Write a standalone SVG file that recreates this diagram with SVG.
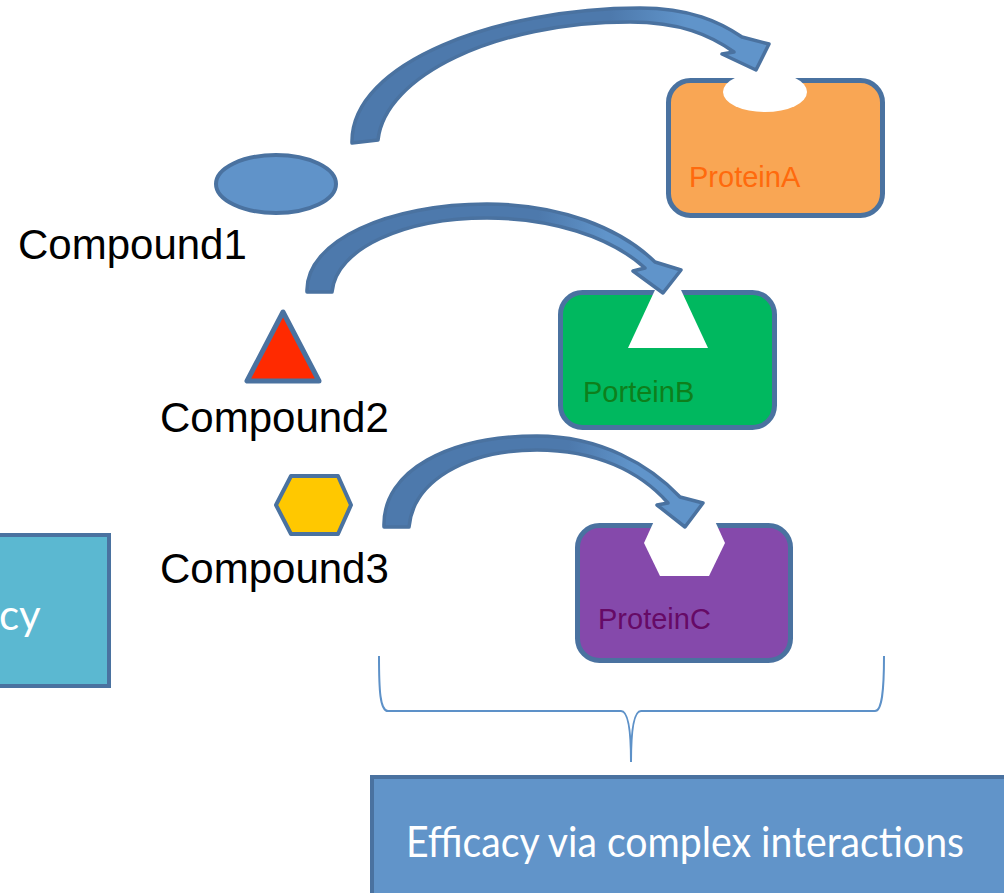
<svg xmlns="http://www.w3.org/2000/svg" width="1004" height="893" viewBox="0 0 1004 893">
  <style>
    .compound-label { font-family: "Liberation Sans", Arial, sans-serif; font-size: 42px; fill: #000000; }
    .protein-label { font-family: "Liberation Sans", Arial, sans-serif; font-size: 29px; }
    .box-label { font-family: Lato, "Open Sans", sans-serif; font-size: 42px; fill: #ffffff; }
    .outline { stroke: #4A72A0; }
    .protein-box { stroke: #4A72A0; stroke-width: 5; }
    .cutout { fill: #ffffff; stroke: none; }
    .curved-arrow { stroke: #4A72A0; stroke-width: 3.5; stroke-linejoin: round; }
    .brace { fill: none; stroke: #5D91C8; stroke-width: 2; }
  </style>
  <defs>
    <linearGradient id="arrowShade1" x1="0" y1="0" x2="1" y2="0">
      <stop offset="0" stop-color="#4D79AC"/>
      <stop offset="0.62" stop-color="#4D79AC"/>
      <stop offset="0.8" stop-color="#6094CA"/>
      <stop offset="1" stop-color="#6094CA"/>
    </linearGradient>
    <linearGradient id="arrowShade2" x1="0" y1="0" x2="1" y2="0">
      <stop offset="0" stop-color="#4D79AC"/>
      <stop offset="0.62" stop-color="#4D79AC"/>
      <stop offset="0.8" stop-color="#6094CA"/>
      <stop offset="1" stop-color="#6094CA"/>
    </linearGradient>
    <linearGradient id="arrowShade3" x1="0" y1="0" x2="1" y2="0">
      <stop offset="0" stop-color="#4D79AC"/>
      <stop offset="0.58" stop-color="#4D79AC"/>
      <stop offset="0.78" stop-color="#6094CA"/>
      <stop offset="1" stop-color="#6094CA"/>
    </linearGradient>
  </defs>

  <!-- partially visible summary box on the left edge -->
  <g id="efficacy-left">
    <rect x="-20" y="535" width="129" height="151" fill="#5BB8D1" class="outline" stroke-width="4"/>
    <text class="box-label" x="-1" y="630">cy</text>
  </g>

  <!-- compounds -->
  <g id="compound1">
    <ellipse cx="276" cy="184" rx="60" ry="29" fill="#6093C9" class="outline" stroke-width="4"/>
    <text class="compound-label" x="18" y="259">Compound1</text>
  </g>
  <g id="compound2">
    <polygon points="283,312 247,381 319,381" fill="#FF2A00" class="outline" stroke-width="5" stroke-linejoin="round"/>
    <text class="compound-label" x="160" y="432">Compound2</text>
  </g>
  <g id="compound3">
    <polygon points="276,505 291,476 338,476 351,505 338,534 291,534" fill="#FFC800" class="outline" stroke-width="4" stroke-linejoin="round"/>
    <text class="compound-label" x="160" y="583">Compound3</text>
  </g>

  <!-- target proteins with binding pockets -->
  <g id="proteinA">
    <rect x="668.5" y="80.5" width="214" height="135" rx="22" fill="#F9A654" class="protein-box"/>
    <ellipse class="cutout" cx="765" cy="92" rx="42" ry="20"/>
    <text class="protein-label" x="689" y="187" fill="#FF6A0D">ProteinA</text>
  </g>
  <g id="proteinB">
    <rect x="560.5" y="292.5" width="214" height="135" rx="22" fill="#00B85F" class="protein-box"/>
    <polygon class="cutout" points="628,348 708,348 668,262" stroke="#ffffff" stroke-width="2" stroke-linejoin="round"/>
    <text class="protein-label" x="583" y="402" fill="#0E7F1C">PorteinB</text>
  </g>
  <g id="proteinC">
    <rect x="577.5" y="525.5" width="213" height="135" rx="22" fill="#8549AB" class="protein-box"/>
    <polygon class="cutout" points="644,543 660,576 709,576 725,543 709,508 660,508"/>
    <text class="protein-label" x="598" y="629" fill="#660A66">ProteinC</text>
  </g>

  <!-- summary box at the bottom -->
  <g id="efficacy-complex">
    <rect x="372" y="777" width="660" height="140" fill="#6194C9" class="outline" stroke-width="4"/>
    <text class="box-label" x="406" y="857" textLength="558" lengthAdjust="spacingAndGlyphs">Efficacy via complex interactions</text>
  </g>

  <!-- curved binding arrows and brace -->
  <g id="connectors">
    <path class="curved-arrow" fill="url(#arrowShade1)"
          d="M 352,143 C 350,62 500,8 640,8 C 690,8 720,22 742,37 L 769,44 L 756,70 L 722,54 L 734,52 C 710,35 680,22 630,22 C 495,22 385,76 378,140 Z"/>
    <path class="curved-arrow" fill="url(#arrowShade2)"
          d="M 307,292 C 305,240 390,204 487,204 C 560,204 620,228 655,262 L 681,270 L 663,293 L 633,271 L 645,268 C 610,236 550,218 487,218 C 405,218 336,248 332,292 Z"/>
    <path class="curved-arrow" fill="url(#arrowShade3)"
          d="M 384,527 C 382,470 450,436 537,436 C 600,436 650,465 680,497 L 703,503 L 685,527 L 657,505 L 668,503 C 640,471 595,450 537,450 C 465,450 413,482 409,527 Z"/>
    <path class="brace"
          d="M 379,656 C 379,690 380,711 388,711 L 621,711 C 628,711 631,730 631,762 C 631,730 634,711 641,711 L 875,711 C 882,711 884,690 884,656"/>
  </g>
</svg>
